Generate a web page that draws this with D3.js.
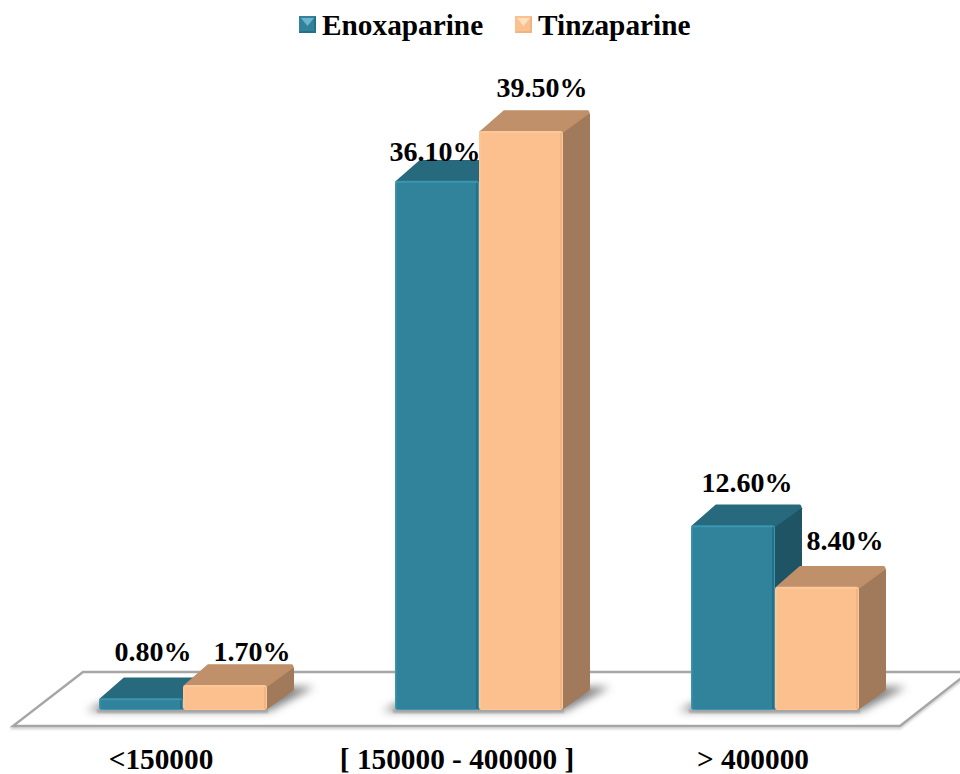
<!DOCTYPE html>
<html>
<head>
<meta charset="utf-8">
<script src="https://cdn.jsdelivr.net/npm/d3@7/dist/d3.min.js"></script>
<style>
html,body{margin:0;padding:0;background:#fff;}
svg{display:block;}
text{font-family:"Liberation Serif",serif;font-weight:bold;fill:#000;}
</style>
</head>
<body>
<svg id="chart" width="960" height="774"></svg>
<script>
// Platelet count classes and the share of patients per treatment
const categories = ["<150000", "[ 150000 - 400000 ]", "> 400000"];
const seriesNames = ["Enoxaparine", "Tinzaparine"];
const enoxaparine = [0.8, 36.1, 12.6];
const tinzaparine = [1.7, 39.5, 8.4];

// Pseudo-3D extrusion and label placement
const depthX = 27, depthY = 20;
const floorFront = 726, floorBack = 672;
const labelNudge = {
  Enoxaparine: [[12, -47], [-2, -29], [14, -43]],
  Tinzaparine: [[27, -34], [21, -44], [28, -46]]
};
const palette = {
  Enoxaparine: {front: "#31839b", edge: "#3b95ae", dark: "#24708a", top: "#286a7d", side: "#1f5464", glow: "#6fb4cc"},
  Tinzaparine: {front: "#fcc08f", edge: "#fdc79a", dark: "#eeb482", top: "#bf9069", side: "#a07a5a", glow: "#fde0c0"}
};

const svg = d3.select("#chart");
const defs = svg.append("defs");
defs.append("filter").attr("id", "shadowBlur")
  .attr("x", "-20%").attr("y", "-40%").attr("width", "140%").attr("height", "180%")
  .append("feGaussianBlur").attr("stdDeviation", 4);
defs.append("filter").attr("id", "lineBlur")
  .attr("x", "-5%").attr("y", "-20%").attr("width", "110%").attr("height", "140%")
  .append("feGaussianBlur").attr("stdDeviation", 1.2);

const x = d3.scaleBand().domain(categories).range([13, 901]);
const inner = d3.scaleBand().domain(seriesNames).range([0, 168]).padding(0);
const y = d3.scaleLinear().domain([0, 39.5]).range([710, 131]);
const barOffset = 64;

const rows = categories.flatMap((c, i) => [
  {cat: c, i, name: seriesNames[0], value: enoxaparine[i]},
  {cat: c, i, name: seriesNames[1], value: tinzaparine[i]}
]);
const barX = d => x(d.cat) + barOffset + 22 + inner(d.name);
const barW = inner.bandwidth();

// Floor plane
const floorPts = [[13, floorFront], [900, floorFront], [969, floorBack], [83, floorBack]];
const floorPath = d3.line()(floorPts) + "Z";
svg.append("path").attr("d", floorPath).attr("transform", "translate(0,2)")
  .attr("fill", "none").attr("stroke", "#cfcfcf").attr("stroke-width", 2.5)
  .attr("filter", "url(#lineBlur)");
svg.append("path").attr("d", floorPath)
  .attr("fill", "#fff").attr("stroke", "#a6a6a6").attr("stroke-width", 2.4)
  .attr("stroke-linejoin", "miter");

// Soft shadows cast on the floor
svg.append("g").selectAll("path").data(categories).join("path")
  .attr("d", c => {
    const l = x(c) + barOffset + 22, r = l + 168, b = y(0);
    return d3.line()([[l - 13, b + 1], [r + 2, b + 1], [r + depthX + 20, b - depthY - 3], [r + depthX - 4, b - depthY - 3], [l + 10, b - 10]]) + "Z";
  })
  .attr("fill", "#555").attr("opacity", 0.75).attr("filter", "url(#shadowBlur)");
svg.append("g").selectAll("rect").data(categories).join("rect")
  .attr("x", c => x(c) + barOffset + 20).attr("y", y(0) - 1)
  .attr("width", 171).attr("height", 4)
  .attr("fill", "#999").attr("opacity", 0.7).attr("filter", "url(#lineBlur)");

// Extruded bars
const bars = svg.append("g").selectAll("g").data(rows).join("g");
bars.append("path") // side face
  .attr("d", d => {
    const r = barX(d) + barW, t = y(d.value), b = y(0);
    return d3.line()([[r - 1, t], [r + depthX - 2, t - depthY + 1], [r + depthX, t - depthY + 3], [r + depthX, b - depthY], [r - 1, b]]) + "Z";
  })
  .attr("fill", d => palette[d.name].side);
bars.append("path") // top face
  .attr("d", d => {
    const l = barX(d), r = l + barW, t = y(d.value);
    return d3.line()([[l + 1, t + 1], [l + depthX - 2, t - depthY], [r + depthX - 2, t - depthY], [r + depthX - 1, t - depthY + 2], [r, t + 1]]) + "Z";
  })
  .attr("fill", d => palette[d.name].top)
  .attr("stroke", d => palette[d.name].top).attr("stroke-width", 1.5).attr("stroke-linejoin", "round");
bars.append("rect") // front face with a thin bevel
  .attr("x", d => barX(d)).attr("y", d => y(d.value))
  .attr("width", barW).attr("height", d => y(0) - y(d.value))
  .attr("rx", 3)
  .attr("fill", d => palette[d.name].edge);
bars.append("rect")
  .attr("x", d => barX(d) + 1.5).attr("y", d => y(d.value) + 2)
  .attr("width", barW - 3).attr("height", d => y(0) - y(d.value) - 3)
  .attr("fill", d => palette[d.name].front);
bars.append("rect") // darker right-hand bevel
  .attr("x", d => barX(d) + barW - 3).attr("y", d => y(d.value) + 2)
  .attr("width", 2).attr("height", d => y(0) - y(d.value) - 3)
  .attr("fill", d => palette[d.name].dark);

// Value labels
svg.append("g").selectAll("text").data(rows).join("text")
  .attr("x", d => barX(d) + barW / 2 + labelNudge[d.name][d.i][0])
  .attr("y", d => y(d.value) + labelNudge[d.name][d.i][1])
  .attr("text-anchor", "middle").attr("dominant-baseline", "central")
  .attr("font-size", 28)
  .text(d => d3.format(".2f")(d.value) + "%");

// Category axis
const axis = svg.append("g").attr("transform", "translate(0,740)")
  .call(d3.axisBottom(x).tickSize(0).tickPadding(8));
axis.select(".domain").remove();
axis.selectAll("text").attr("font-size", 29.3).attr("font-family", "Liberation Serif").attr("fill", "#000");

// Legend with bevelled swatches
const legend = svg.append("g");
const legendX = {Enoxaparine: 299, Tinzaparine: 515};
const swatch = legend.selectAll("g").data(seriesNames).join("g")
  .attr("transform", d => `translate(${legendX[d]},16)`);
const s = 17;
swatch.append("rect").attr("width", s).attr("height", s).attr("fill", d => palette[d].front);
swatch.append("path").attr("d", d3.line()([[0, s], [s, s], [s - 2, s - 2], [2, s - 2]]) + "Z").attr("fill", d => palette[d].dark);
swatch.append("path").attr("d", d3.line()([[s, 0], [s, s], [s - 2, s - 2], [s - 2, 2]]) + "Z").attr("fill", d => palette[d].dark);
swatch.append("path").attr("d", d3.line()([[2, 2], [s - 2, 2], [s / 2, 10]]) + "Z").attr("fill", d => palette[d].glow);
swatch.append("text").attr("x", 23).attr("y", 9).attr("dominant-baseline", "central")
  .attr("font-size", 29.3).text(d => d);
</script>
</body>
</html>
